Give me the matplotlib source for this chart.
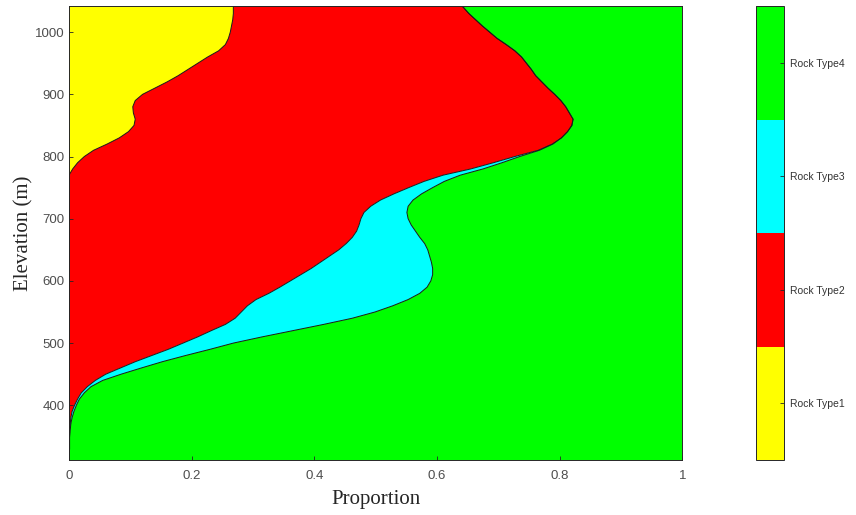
import numpy as np
import matplotlib
matplotlib.use("Agg")
import matplotlib.pyplot as plt
from matplotlib.colors import ListedColormap, BoundaryNorm
from matplotlib.colorbar import ColorbarBase

# elevation grid (m)
elevation = np.arange(310, 1051, 10)

# cumulative proportions (left to right boundaries)
# boundary yellow / red
cum_type1 = [0, 0, 0, 0, 0, 0, 0, 0, 0, 0,            # 310-400
             0, 0, 0, 0, 0, 0, 0, 0, 0, 0,            # 410-500
             0, 0, 0, 0, 0, 0, 0, 0, 0, 0,            # 510-600
             0, 0, 0, 0, 0, 0, 0, 0, 0, 0,            # 610-700
             0, 0, 0, 0, 0, 0, 0, 0.006, 0.014, 0.025,  # 710-800
             0.040, 0.062, 0.082, 0.097, 0.106, 0.108, 0.105, 0.104, 0.108, 0.120,  # 810-900
             0.140, 0.160, 0.178, 0.194, 0.210, 0.226, 0.244, 0.255, 0.260, 0.263,  # 910-1000
             0.265, 0.267, 0.268, 0.268, 0.268]       # 1010-1050

# boundary red / cyan
cum_type2 = [0, 0, 0, 0, 0.001, 0.001, 0.002, 0.003, 0.005, 0.009,
             0.014, 0.020, 0.030, 0.043, 0.060, 0.084, 0.108, 0.135, 0.162, 0.186,
             0.210, 0.232, 0.255, 0.271, 0.281, 0.291, 0.305, 0.326, 0.344, 0.361,
             0.378, 0.395, 0.410, 0.425, 0.440, 0.452, 0.462, 0.469, 0.473, 0.476,
             0.481, 0.492, 0.508, 0.530, 0.554, 0.579, 0.610, 0.655, 0.692, 0.727,
             0.765, 0.788, 0.803, 0.813, 0.820, 0.822, 0.816, 0.810, 0.802, 0.792,
             0.781, 0.771, 0.761, 0.754, 0.746, 0.738, 0.727, 0.713, 0.698, 0.686,
             0.674, 0.663, 0.652, 0.643, 0.633]

# boundary cyan / green
cum_type3 = [0, 0, 0.001, 0.001, 0.001, 0.002, 0.003, 0.005, 0.008, 0.012,
             0.017, 0.025, 0.036, 0.055, 0.085, 0.118, 0.152, 0.190, 0.230, 0.268,
             0.315, 0.365, 0.415, 0.462, 0.499, 0.528, 0.553, 0.572, 0.584, 0.590,
             0.593, 0.593, 0.591, 0.588, 0.585, 0.580, 0.572, 0.565, 0.558, 0.553,
             0.551, 0.553, 0.561, 0.575, 0.593, 0.612, 0.638, 0.675, 0.706, 0.735,
             0.767, 0.789, 0.803, 0.813, 0.820, 0.822, 0.816, 0.810, 0.802, 0.792,
             0.781, 0.771, 0.761, 0.754, 0.746, 0.738, 0.727, 0.713, 0.698, 0.686,
             0.674, 0.663, 0.652, 0.643, 0.633]

rock_types = ["Rock Type1", "Rock Type2", "Rock Type3", "Rock Type4"]
colors = ["#ffff00", "#ff0000", "#00ffff", "#00ff00"]

tick_font = "Liberation Sans"
label_font = "Liberation Serif"

fig = plt.figure(figsize=(8.56, 5.15), dpi=100)
ax = fig.add_axes([0.0806, 0.1068, 0.7164, 0.8815])

b0 = np.zeros(len(elevation))
b4 = np.ones(len(elevation))
bounds = [b0, np.array(cum_type1), np.array(cum_type2), np.array(cum_type3), b4]
for i in range(4):
    ax.fill_betweenx(elevation, bounds[i], bounds[i + 1], facecolor=colors[i],
                     edgecolor="none", linewidth=0)
for b in bounds[1:4]:
    ax.plot(b, elevation, color="#1a1a1a", linewidth=0.7)

ax.set_xlim(0, 1)
ax.set_ylim(312, 1042)
ax.set_xticks([0, 0.2, 0.4, 0.6, 0.8, 1])
ax.set_xticklabels(["0", "0.2", "0.4", "0.6", "0.8", "1"])
ax.set_yticks([400, 500, 600, 700, 800, 900, 1000])
ax.tick_params(direction="in", length=3, width=0.6, colors="#262626",
               labelcolor="#4d4d4d", labelsize=9.5)
ax.tick_params(axis="x", pad=7)
ax.tick_params(axis="y", pad=3)
for lbl in ax.get_xticklabels() + ax.get_yticklabels():
    lbl.set_fontfamily(tick_font)
for s in ax.spines.values():
    s.set_linewidth(0.7)
    s.set_color("#262626")

ax.set_xlabel("Proportion", fontsize=15, fontfamily=label_font, color="#262626", labelpad=6)
ax.set_ylabel("Elevation (m)", fontsize=15, fontfamily=label_font, color="#262626", labelpad=1.5)

# discrete colorbar
cax = fig.add_axes([0.8832, 0.1068, 0.0327, 0.8815])
cmap = ListedColormap(colors)
norm = BoundaryNorm([0, 1, 2, 3, 4], cmap.N)
cb = ColorbarBase(cax, cmap=cmap, norm=norm, orientation="vertical")
cb.set_ticks([0.5, 1.5, 2.5, 3.5])
cb.set_ticklabels(rock_types)
cax.minorticks_off()
cax.tick_params(direction="in", length=3, width=0.6, colors="#262626",
                labelcolor="#333333", labelsize=7.5, pad=4)
for lbl in cax.get_yticklabels():
    lbl.set_fontfamily(tick_font)
cb.outline.set_linewidth(0.7)
cb.outline.set_edgecolor("#262626")

fig.savefig("out.png", dpi=100)
